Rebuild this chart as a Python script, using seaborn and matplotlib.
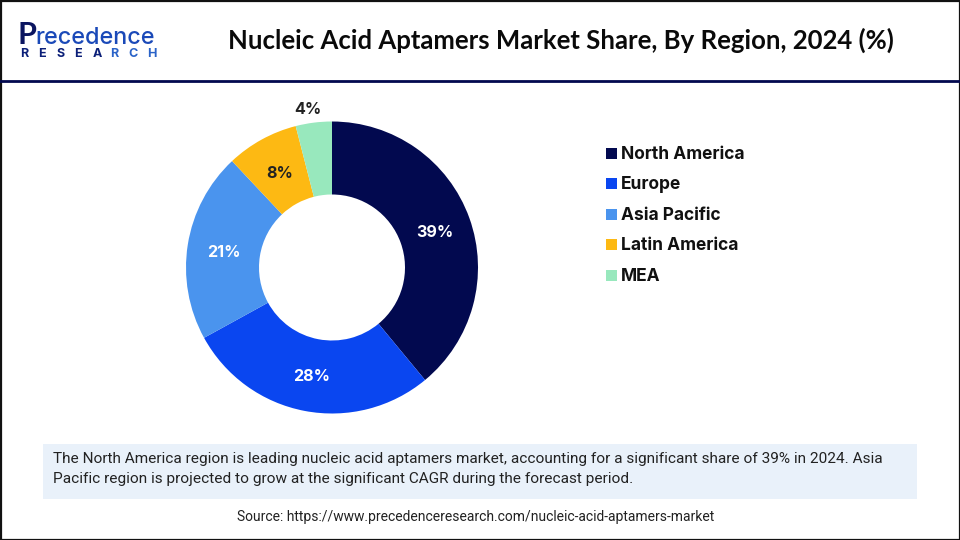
import matplotlib
matplotlib.use("Agg")
import matplotlib.pyplot as plt
from matplotlib.patches import Rectangle
import numpy as np
import seaborn as sns

# Chart data
regions = ["North America", "Europe", "Asia Pacific", "Latin America", "MEA"]
shares = [39, 28, 21, 8, 4]
palette = ["#02094f", "#0a46f0", "#4a94ee", "#fdb913", "#98e8bd"]

title = "Nucleic Acid Aptamers Market Share, By Region, 2024 (%)"
note_lines = [
    "The North America region is leading nucleic acid aptamers market, accounting for a significant share of 39% in 2024. Asia",
    "Pacific region is projected to grow at the significant CAGR during the forecast period.",
]
source = "Source: https://www.precedenceresearch.com/nucleic-acid-aptamers-market"

sns.set_theme(style="white")
plt.rcParams["font.family"] = ["Lato", "DejaVu Sans"]
colors = sns.color_palette(palette)

fig = plt.figure(figsize=(9.6, 5.4), dpi=100, facecolor="white")

# Full figure layer in pixel coordinates for the frame, header and text
bg = fig.add_axes([0, 0, 1, 1])
bg.set_xlim(0, 960)
bg.set_ylim(540, 0)
bg.axis("off")

bg.add_patch(Rectangle((0.5, 0.5), 959, 539, fill=False, edgecolor="#111111", lw=1.6))
bg.plot([0, 960], [81, 81], color="#02094f", lw=2)

# Logo
bg.text(18, 44, "P", fontsize=22, fontweight="bold", color="#0b1560", va="baseline")
bg.text(35, 44, "recedence", fontsize=16.8, color="#1a49b8", va="baseline", family="Inter", fontweight="medium")
for i, ch in enumerate("RESEARCH"):
    bg.text(20 + i * 18.1, 54, ch, fontsize=9, fontweight="bold", ha="left", va="center",
            color="#0b1f78" if i < 5 else "#2a63c8", family="Inter")

bg.text(561, 40, title, fontsize=18.55, fontweight="bold", color="#0a0a0a", ha="center", va="center")

# Note box
bg.add_patch(Rectangle((43, 444), 874, 55, facecolor="#e9f1fa", edgecolor="none"))
for y, line in zip([458.5, 479.5], note_lines):
    bg.text(53, y, line, fontsize=11.1, color="#222222", va="center", family="Roboto")
bg.text(476, 517, source, fontsize=10, color="#222222", ha="center", va="center", family="Roboto")

# Legend
for y, name, c in zip([153, 183, 214, 244, 275], regions, colors):
    bg.add_patch(Rectangle((606, y - 5.5), 11, 11, facecolor=c, edgecolor="none"))
    bg.text(621, y + 1.5, name, fontsize=12.5, fontweight="bold", color="#111111", va="center", family="Inter")

# Donut
ax = fig.add_axes([182 / 960, 1 - 417.5 / 540, 300 / 960, 300 / 540])
wedges, _ = ax.pie(shares, colors=colors, startangle=90, counterclock=False, radius=1,
                   wedgeprops=dict(width=0.5, edgecolor="none"))
ax.set_xlim(-150 / 146, 150 / 146)
ax.set_ylim(-150 / 146, 150 / 146)

for w, val in zip(wedges, shares):
    ang = np.deg2rad((w.theta1 + w.theta2) / 2)
    # the smallest slice carries its label outside the ring
    r = 1.1 if val < 5 else 0.75
    x, y = r * np.cos(ang), r * np.sin(ang)
    if val < 5:
        x -= 0.03
    tcolor = "#222222" if val < 10 else "white"
    ax.text(x, y - 0.012, f"{val}%", fontsize=11.6, fontweight="bold", color=tcolor,
            ha="center", va="center", family="Inter", clip_on=False)

fig.savefig("out.png", dpi=100)
